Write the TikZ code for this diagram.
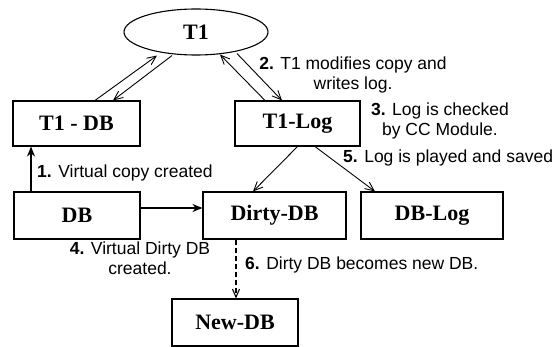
\documentclass[tikz,border=0pt]{standalone}
\usepackage{fontspec}
\setmainfont{Liberation Serif}
\setsansfont{Liberation Sans}
\usetikzlibrary{arrows.meta,shapes.geometric}
\begin{document}
\begin{tikzpicture}[x=1pt,y=-1pt,
  box/.style={draw,line width=1.1pt,rectangle,inner sep=0pt,font=\fontsize{22}{24}\selectfont\bfseries},
  lbl/.style={font=\sffamily\fontsize{17.5}{20}\selectfont,inner sep=0pt,align=center},
  openarr/.style={line width=0.9pt,-{Straight Barb[length=9pt,width=8pt,line width=0.9pt]}},
  filledarr/.style={line width=1.3pt,-{Stealth[length=10pt,width=8pt]}},
  dasharr/.style={line width=1.1pt,dashed,dash pattern=on 5pt off 3pt,-{Straight Barb[length=8pt,width=7pt,line width=1.1pt]}}]
\useasboundingbox (0,0) rectangle (559,347);
\fill[white] (0,0) rectangle (559,347);
\node[draw,ellipse,line width=1.1pt,minimum width=144pt,minimum height=46pt,inner sep=0pt,font=\fontsize{22}{24}\selectfont\bfseries] (t1) at (196,32) {T1};
\node[box,minimum width=127pt,minimum height=45pt] (t1db) at (76.5,123.5) {T1 - DB};
\node[box,minimum width=125pt,minimum height=45pt] (t1log) at (297.5,123.5) {T1-Log};
\node[box,minimum width=126pt,minimum height=47pt] (db) at (77,215.5) {DB};
\node[box,minimum width=143pt,minimum height=47pt] (dirty) at (274.5,215.5) {Dirty-DB};
\node[box,minimum width=142pt,minimum height=47pt] (dblog) at (432,215.5) {DB-Log};
\node[box,minimum width=126pt,minimum height=47pt] (newdb) at (235,322.5) {New-DB};

\draw[openarr] ([xshift=18.5pt]t1db.north) -- ([xshift=-39pt]t1.south);
\draw[openarr] ([xshift=-24pt]t1.south) -- ([xshift=36.5pt]t1db.north);
\draw[openarr] ([xshift=-32.5pt]t1log.north) -- ([xshift=24pt,yshift=1pt]t1.south);
\draw[openarr] ([xshift=41pt,yshift=2pt]t1.south) -- ([xshift=-15.5pt]t1log.north);
\draw[filledarr] ([xshift=-46pt]db.north) -- ([xshift=-45.5pt]t1db.south);
\draw[filledarr] ([yshift=7.5pt]db.east) -- ([yshift=7.5pt]dirty.west);
\draw[openarr] ([xshift=0pt]t1log.south) -- ([xshift=-21.5pt]dirty.north);
\draw[openarr] ([xshift=17.5pt]t1log.south) -- ([xshift=-57pt]dblog.north);
\draw[dasharr] ([xshift=-38.5pt]dirty.south) -- ([xshift=1pt]newdb.north);

\node[lbl,anchor=west] (l1) at (37,173) {\textbf{1.} Virtual copy created};
\node[lbl] (l2) at (353,75) {\textbf{2.} T1 modifies copy and\\writes log.};
\node[lbl] (l3) at (440,121) {\textbf{3.} Log is checked\\by CC Module.};
\node[lbl,anchor=west] (l5) at (343,158) {\textbf{5.} Log is played and saved};
\node[lbl] (l4) at (140,258) {\textbf{4.} Virtual Dirty DB\\created.};
\node[lbl,anchor=west] (l6) at (245,265) {\textbf{6.} Dirty DB becomes new DB.};
\end{tikzpicture}
\end{document}
